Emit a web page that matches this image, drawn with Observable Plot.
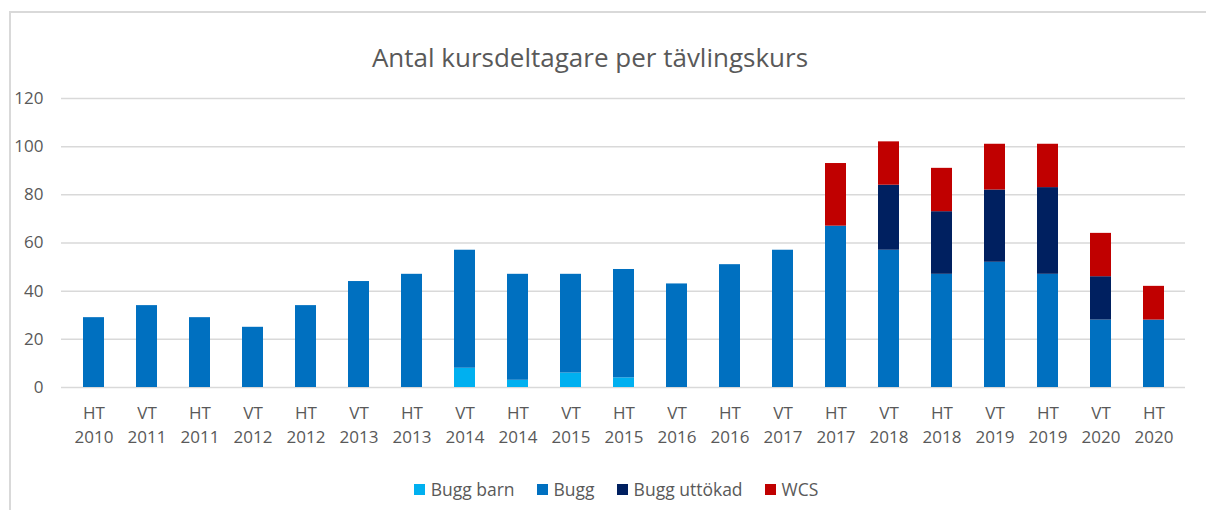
<!DOCTYPE html>
<html>
<head>
<meta charset="utf-8">
<script src="https://cdn.jsdelivr.net/npm/d3@7"></script>
<script src="https://cdn.jsdelivr.net/npm/@observablehq/plot@0.6"></script>
<style>
  html, body { margin: 0; padding: 0; background: #fff; }
  body { width: 1206px; height: 510px; overflow: hidden; position: relative; font-family: "Open Sans", "Liberation Sans", sans-serif; }
  #frame { position: absolute; left: 9px; top: 11px; width: 1200px; height: 520px; border-left: 2px solid #d9d9d9; border-top: 2px solid #d9d9d9; }
  #title { position: absolute; left: 0; top: 39px; width: 1180px; text-align: center; font-size: 26px; color: #595959; line-height: 36px; }
  #chart { position: absolute; left: 0; top: 80px; }
  #legend { position: absolute; left: 0; top: 476px; width: 1206px; display: flex; justify-content: center; padding-left: 26px; box-sizing: border-box; font-size: 17.5px; color: #595959; line-height: 26px; }
  .item { display: flex; align-items: center; margin: 0 11px; }
  .sw { width: 11px; height: 11px; margin-right: 6px; }
</style>
</head>
<body>
<div id="frame"></div>
<div id="title">Antal kursdeltagare per tävlingskurs</div>
<div id="chart"></div>
<div id="legend"></div>
<script>
const categories = ["HT 2010","VT 2011","HT 2011","VT 2012","HT 2012","VT 2013","HT 2013","VT 2014","HT 2014","VT 2015","HT 2015","VT 2016","HT 2016","VT 2017","HT 2017","VT 2018","HT 2018","VT 2019","HT 2019","VT 2020","HT 2020"];
const seriesNames = ["Bugg barn","Bugg","Bugg uttökad","WCS"];
const seriesColors = ["#00B0F0","#0070C0","#002060","#C00000"];
const buggBarn    = [0,0,0,0,0,0,0,8,3,6,4,0,0,0,0,0,0,0,0,0,0];
const bugg        = [29,34,29,25,34,44,47,49,44,41,45,43,51,57,67,57,47,52,47,28,28];
const buggUttokad = [0,0,0,0,0,0,0,0,0,0,0,0,0,0,0,27,26,30,36,18,0];
const wcs         = [0,0,0,0,0,0,0,0,0,0,0,0,0,0,26,18,18,19,18,18,14];
const yTicks = [0,20,40,60,80,100,120];

const seriesValues = [buggBarn, bugg, buggUttokad, wcs];
const data = seriesNames.flatMap((s, i) => categories.map((c, j) => ({category: c, series: s, value: seriesValues[i][j]})));

const chart = Plot.plot({
  width: 1206,
  height: 380,
  marginTop: 18,
  marginBottom: 73,
  marginLeft: 61,
  marginRight: 21,
  style: {fontFamily: '"Open Sans", "Liberation Sans", sans-serif', color: "#595959", background: "transparent"},
  x: {domain: categories, paddingInner: 0.61, paddingOuter: 0.305, label: null},
  y: {domain: [0, 120], label: null},
  color: {domain: seriesNames, range: seriesColors},
  marks: [
    Plot.gridY(yTicks, {stroke: "#d9d9d9", strokeOpacity: 1, strokeWidth: 1.5}),
    Plot.barY(data, {x: "category", y: "value", fill: "series"}),
    Plot.axisY(yTicks, {tickSize: 0, tickPadding: 18, fontSize: 17, fill: "#595959", label: null}),
    Plot.axisX({tickSize: 0, tickPadding: 14, fontSize: 17, fill: "#595959", lineHeight: 1.42, tickFormat: d => d.replace(" ", "\n"), label: null})
  ]
});
document.getElementById("chart").appendChild(chart);

const legend = document.getElementById("legend");
seriesNames.forEach((s, i) => {
  const it = document.createElement("div");
  it.className = "item";
  const sw = document.createElement("div");
  sw.className = "sw";
  sw.style.background = seriesColors[i];
  const t = document.createElement("span");
  t.textContent = s;
  it.appendChild(sw);
  it.appendChild(t);
  legend.appendChild(it);
});
</script>
</body>
</html>
